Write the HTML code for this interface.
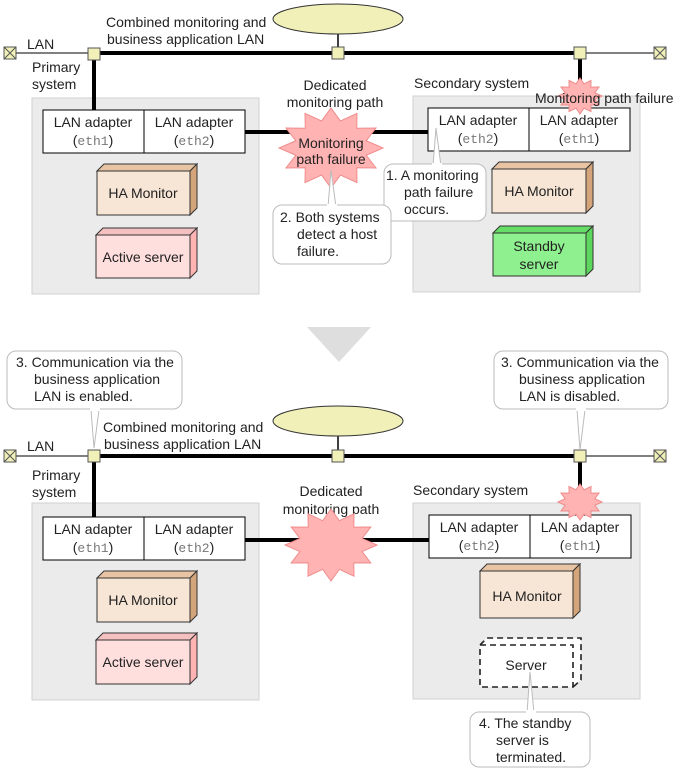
<!DOCTYPE html>
<html><head><meta charset="utf-8"><style>
html,body{margin:0;padding:0;background:#fff}
svg{display:block}
text{font-family:"Liberation Sans",sans-serif;font-size:14px;fill:#222}
.m{font-family:"Liberation Mono",monospace;fill:#777;font-size:13px}
</style></head><body>
<svg width="679" height="771" viewBox="0 0 679 771" xmlns="http://www.w3.org/2000/svg">
<defs>
<polygon id="st" points="1,0 .676,.181 .866,.5 .495,.495 .5,.866 .181,.676 0,1 -.181,.676 -.5,.866 -.495,.495 -.866,.5 -.676,.181 -1,0 -.676,-.181 -.866,-.5 -.495,-.495 -.5,-.866 -.181,-.676 0,-1 .181,-.676 .5,-.866 .495,-.495 .866,-.5 .676,-.181" fill="#ffb3b3" stroke="#f08c8c" stroke-width="1" vector-effect="non-scaling-stroke"/>
</defs>

<!-- ===== TOP ===== -->
<rect x="32" y="98" width="227" height="196" fill="#ebebeb" stroke="#d0d0d0"/>
<rect x="413" y="96" width="227" height="196" fill="#ebebeb" stroke="#d0d0d0"/>
<line x1="338" y1="34" x2="338" y2="53" stroke="#000" stroke-width="1.5"/>
<ellipse cx="338" cy="19" rx="65" ry="15" fill="#f0f0b8" stroke="#333"/>
<line x1="10" y1="53" x2="94" y2="53" stroke="#000"/>
<line x1="580" y1="53" x2="660" y2="53" stroke="#000"/>
<line x1="94" y1="53" x2="580" y2="53" stroke="#000" stroke-width="4"/>
<line x1="94" y1="53" x2="94" y2="110" stroke="#000" stroke-width="4"/>
<line x1="580" y1="53" x2="580" y2="85" stroke="#000" stroke-width="4"/>
<line x1="245" y1="132" x2="428" y2="132" stroke="#000" stroke-width="4"/>
<g fill="#f0f0b8" stroke="#555"><rect x="88" y="48" width="12" height="12"/><rect x="332" y="47" width="12" height="12"/><rect x="574" y="47" width="12" height="12"/></g>
<g fill="#f0f0b8" stroke="#555"><rect x="4" y="47" width="12" height="12"/><rect x="654" y="47" width="12" height="12"/></g>
<path d="M4,47l12,12M16,47l-12,12M654,47l12,12M666,47l-12,12" stroke="#555"/>
<text x="106" y="27">Combined monitoring and</text>
<text x="107" y="44">business application LAN</text>
<text x="27" y="49">LAN</text>
<text x="32" y="72">Primary</text><text x="32" y="89">system</text>
<text x="335" y="90" text-anchor="middle">Dedicated</text>
<text x="335" y="107" text-anchor="middle">monitoring path</text>
<text x="414" y="88">Secondary system</text>

<rect x="43" y="110" width="101" height="43" fill="#fff" stroke="#000"/>
<rect x="144" y="110" width="101" height="43" fill="#fff" stroke="#000"/>
<text x="93" y="127" text-anchor="middle">LAN adapter</text><text x="93" y="145" text-anchor="middle">(<tspan class="m">eth1</tspan>)</text>
<text x="194" y="127" text-anchor="middle">LAN adapter</text><text x="194" y="145" text-anchor="middle">(<tspan class="m">eth2</tspan>)</text>
<rect x="428" y="108" width="101" height="43" fill="#fff" stroke="#000"/>
<rect x="529" y="108" width="101" height="43" fill="#fff" stroke="#000"/>
<text x="478" y="125" text-anchor="middle">LAN adapter</text><text x="478" y="143" text-anchor="middle">(<tspan class="m">eth2</tspan>)</text>
<text x="579" y="125" text-anchor="middle">LAN adapter</text><text x="579" y="143" text-anchor="middle">(<tspan class="m">eth1</tspan>)</text>

<use href="#st" transform="translate(580,96) scale(22,18)"/>
<text x="535" y="103">Monitoring path failure</text>
<use href="#st" transform="translate(331,148) scale(52,40)"/>
<text x="331" y="148" text-anchor="middle">Monitoring</text>
<text x="331" y="164" text-anchor="middle">path failure</text>

<g stroke="#333"><polygon points="97,171 104,164 197,164 190,171" fill="#e8c4a4"/><polygon points="190,171 197,164 197,208 190,215" fill="#d4a47a"/><rect x="97" y="171" width="93" height="44" fill="#f7e6d6"/></g>
<text x="143" y="198" text-anchor="middle">HA Monitor</text>
<g stroke="#333"><polygon points="96,235 103,228 197,228 190,235" fill="#f5c0c0"/><polygon points="190,235 197,228 197,271 190,278" fill="#ffb3b3"/><rect x="96" y="235" width="94" height="43" fill="#ffdede"/></g>
<text x="143" y="262" text-anchor="middle">Active server</text>
<g stroke="#333"><polygon points="492,169 499,162 593,162 586,169" fill="#e8c4a4"/><polygon points="586,169 593,162 593,206 586,213" fill="#d4a47a"/><rect x="492" y="169" width="94" height="44" fill="#f7e6d6"/></g>
<text x="539" y="196" text-anchor="middle">HA Monitor</text>
<g stroke="#333"><polygon points="493,233 500,226 593,226 586,233" fill="#66dd66"/><polygon points="586,233 593,226 593,269 586,276" fill="#5cd65c"/><rect x="493" y="233" width="93" height="43" fill="#8ef08e"/></g>
<text x="539" y="251" text-anchor="middle">Standby</text><text x="539" y="269" text-anchor="middle">server</text>

<polygon points="436,128 433,166 441,166" fill="#fff" stroke="#bbb"/>
<rect x="384" y="164" width="102" height="57" rx="9" fill="#fff" stroke="#bbb"/>
<rect x="432" y="163" width="10" height="3" fill="#fff"/>
<text x="386" y="180">1. A monitoring</text><text x="404" y="197">path failure</text><text x="404" y="214">occurs.</text>
<polygon points="331,170 328,207 336,207" fill="#fff" stroke="#bbb"/>
<rect x="273" y="205" width="118" height="59" rx="9" fill="#fff" stroke="#bbb"/>
<rect x="327" y="204" width="10" height="3" fill="#fff"/>
<text x="280" y="222">2. Both systems</text><text x="297" y="239">detect a host</text><text x="297" y="256">failure.</text>

<polygon points="307,327 371,327 339,362" fill="#dedede"/>

<!-- ===== BOTTOM ===== -->
<rect x="32" y="503" width="227" height="197" fill="#ebebeb" stroke="#d0d0d0"/>
<rect x="413" y="503" width="227" height="196" fill="#ebebeb" stroke="#d0d0d0"/>
<line x1="338" y1="436" x2="338" y2="456" stroke="#000" stroke-width="1.5"/>
<ellipse cx="338" cy="421" rx="65" ry="15" fill="#f0f0b8" stroke="#333"/>
<line x1="10" y1="456" x2="94" y2="456" stroke="#000"/>
<line x1="580" y1="456" x2="660" y2="456" stroke="#000"/>
<line x1="94" y1="456" x2="580" y2="456" stroke="#000" stroke-width="4"/>
<line x1="94" y1="456" x2="94" y2="517" stroke="#000" stroke-width="4"/>
<line x1="580" y1="456" x2="580" y2="492" stroke="#000" stroke-width="4"/>
<line x1="245" y1="540" x2="429" y2="540" stroke="#000" stroke-width="4"/>
<g fill="#f0f0b8" stroke="#555"><rect x="88" y="450" width="12" height="12"/><rect x="332" y="450" width="12" height="12"/><rect x="574" y="450" width="12" height="12"/><rect x="4" y="450" width="12" height="12"/><rect x="654" y="450" width="12" height="12"/></g>
<path d="M4,450l12,12M16,450l-12,12M654,450l12,12M666,450l-12,12" stroke="#555"/>
<text x="103" y="432">Combined monitoring and</text>
<text x="104" y="449">business application LAN</text>
<text x="27" y="451">LAN</text>
<text x="32" y="480">Primary</text><text x="32" y="497">system</text>
<text x="331" y="496" text-anchor="middle">Dedicated</text>
<text x="331" y="514" text-anchor="middle">monitoring path</text>
<text x="413" y="495">Secondary system</text>

<rect x="43" y="517" width="101" height="43" fill="#fff" stroke="#000"/>
<rect x="144" y="517" width="101" height="43" fill="#fff" stroke="#000"/>
<text x="93" y="534" text-anchor="middle">LAN adapter</text><text x="93" y="552" text-anchor="middle">(<tspan class="m">eth1</tspan>)</text>
<text x="194" y="534" text-anchor="middle">LAN adapter</text><text x="194" y="552" text-anchor="middle">(<tspan class="m">eth2</tspan>)</text>
<rect x="429" y="515" width="101" height="43" fill="#fff" stroke="#000"/>
<rect x="530" y="515" width="101" height="43" fill="#fff" stroke="#000"/>
<text x="479" y="532" text-anchor="middle">LAN adapter</text><text x="479" y="550" text-anchor="middle">(<tspan class="m">eth2</tspan>)</text>
<text x="580" y="532" text-anchor="middle">LAN adapter</text><text x="580" y="550" text-anchor="middle">(<tspan class="m">eth1</tspan>)</text>
<use href="#st" transform="translate(580,502) scale(22,18)"/>
<use href="#st" transform="translate(331,545) scale(46,36)"/>

<g stroke="#333"><polygon points="97,578 104,571 197,571 190,578" fill="#e8c4a4"/><polygon points="190,578 197,571 197,615 190,622" fill="#d4a47a"/><rect x="97" y="578" width="93" height="44" fill="#f7e6d6"/></g>
<text x="143" y="605" text-anchor="middle">HA Monitor</text>
<g stroke="#333"><polygon points="96,640 103,633 197,633 190,640" fill="#f5c0c0"/><polygon points="190,640 197,633 197,677 190,684" fill="#ffb3b3"/><rect x="96" y="640" width="94" height="44" fill="#ffdede"/></g>
<text x="143" y="667" text-anchor="middle">Active server</text>
<g stroke="#333"><polygon points="480,571 487,564 580,564 573,571" fill="#e8c4a4"/><polygon points="573,571 580,564 580,611 573,618" fill="#d4a47a"/><rect x="480" y="571" width="93" height="47" fill="#f7e6d6"/></g>
<text x="527" y="601" text-anchor="middle">HA Monitor</text>
<g stroke="#222" stroke-width="1.6" stroke-dasharray="6,4" fill="#fff"><path d="M480,645 L487,638 L581,638 L581,680 L573,687"/><rect x="480" y="645" width="93" height="42"/></g>
<text x="526" y="670" text-anchor="middle">Server</text>

<polygon points="94,448 91,410 99,410" fill="#fff" stroke="#bbb"/>
<rect x="7" y="351" width="175" height="58" rx="9" fill="#fff" stroke="#bbb"/>
<rect x="90" y="407" width="10" height="4" fill="#fff"/>
<text x="16" y="367">3. Communication via the</text><text x="34" y="384">business application</text><text x="34" y="401">LAN is enabled.</text>
<polygon points="580,450 577,410 585,410" fill="#fff" stroke="#bbb"/>
<rect x="494" y="351" width="174" height="58" rx="9" fill="#fff" stroke="#bbb"/>
<rect x="576" y="407" width="10" height="4" fill="#fff"/>
<text x="501" y="367">3. Communication via the</text><text x="519" y="384">business application</text><text x="519" y="401">LAN is disabled.</text>
<polygon points="530,672 527,713 534,713" fill="#fff" stroke="#bbb"/>
<rect x="470" y="712" width="120" height="55" rx="9" fill="#fff" stroke="#bbb"/>
<rect x="526" y="710" width="10" height="4" fill="#fff"/>
<text x="479" y="728">4. The standby</text><text x="496" y="745">server is</text><text x="496" y="762">terminated.</text>
</svg>
</body></html>
